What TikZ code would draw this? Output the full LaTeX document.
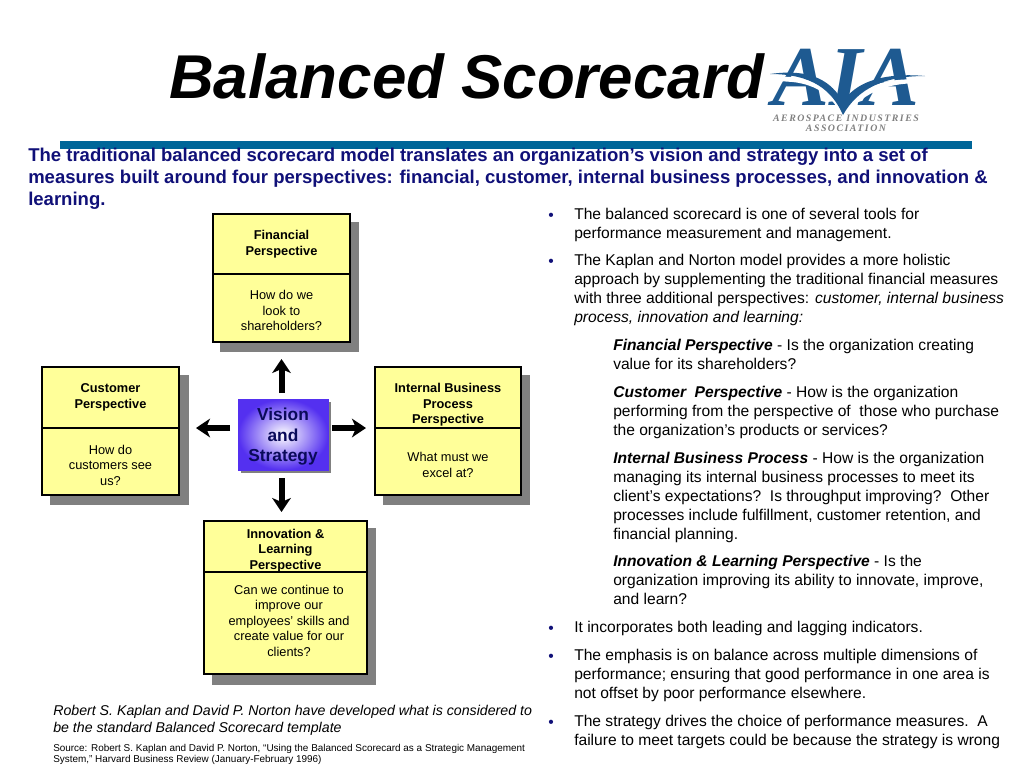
\documentclass[tikz,border=0pt]{standalone}
\usepackage{fontspec}
\setmainfont{Liberation Sans}
\newfontfamily\logofont{Liberation Serif}
\newfontfamily\logotextfont[LetterSpace=15]{Liberation Serif}
\usetikzlibrary{arrows.meta}
\definecolor{cardYellow}{RGB}{255,255,153}
\definecolor{cardShadow}{RGB}{128,128,128}
\definecolor{barBlue}{RGB}{0,102,153}
\definecolor{introBlue}{RGB}{16,16,120}
\definecolor{visionText}{RGB}{10,10,90}
\definecolor{visionBlue}{RGB}{84,48,240}
\definecolor{logoBlue}{RGB}{30,90,145}
\providecommand{\dropText}[1]{\rule{0pt}{#1}}
\tikzset{
  cardHead/.style={draw=black, line width=1pt, fill=cardYellow, inner sep=0pt, outer sep=0pt, align=center,
    font=\fontsize{9.6}{11.6}\selectfont\bfseries},
  cardLook/.style={draw=black, line width=1pt, fill=cardYellow, inner sep=0pt, outer sep=0pt, align=center,
    font=\fontsize{9.6}{11.6}\selectfont},
  bodyText/.style={anchor=north west, inner sep=0pt, align=left, font=\fontsize{11.7}{14.2}\selectfont},
  bulletMark/.style={inner sep=0pt, text=introBlue, font=\fontsize{11.7}{14.2}\selectfont},
  bigArrow/.style={line width=4.5pt, -{Stealth[length=10.5pt,width=14pt,inset=3pt]}},
}
\begin{document}
\begin{tikzpicture}
% one unit is one pixel of the slide
\begin{scope}[x=0.75pt, y=-0.75pt]
  \useasboundingbox (0,0) rectangle (1024,768);
  % Heading and bar
  \node[inner sep=0pt, anchor=base west, font=\fontsize{46.4}{48}\selectfont\bfseries\itshape] (title) at (169,98) {Balanced Scorecard};
  \fill[barBlue] (60,141) rectangle (972,149);
  % Logo
  \node[inner sep=0pt, anchor=base, text=logoBlue, font=\fontsize{64}{64}\logofont\bfseries\itshape] (logoName) at (846,105) {AIA};
  \fill[white] (768,78) .. controls (812,72) and (832,88) .. (843,112) .. controls (854,90) and (880,76) .. (927,80) -- (927,84) .. controls (885,80) and (860,96) .. (843,118) .. controls (832,94) and (812,78) .. (768,82) -- cycle;
  \fill[logoBlue] (770,74) .. controls (812,68) and (832,82) .. (843,102) .. controls (854,84) and (880,72) .. (925,76) .. controls (885,76) and (858,88) .. (843,115) .. controls (832,90) and (812,74) .. (770,74) -- cycle;
  \node[inner sep=0pt, text=cardShadow, align=center, font=\fontsize{7.4}{7.5}\logotextfont\bfseries\itshape] (logoText) at (846,123.5) {AEROSPACE INDUSTRIES\\ASSOCIATION};
  % Intro
  \node[inner sep=0pt, anchor=north west, align=left, text=introBlue, font=\fontsize{13.9}{16.5}\selectfont\bfseries] (intro) at (28,147.5) {The traditional balanced scorecard model translates an organization’s vision and strategy into a set of\\measures built around four perspectives: financial, customer, internal business processes, and innovation \&\\learning.};
  % Shadows
  \fill[cardShadow] (220,222) rectangle (359,352);
  \fill[cardShadow] (50,375) rectangle (189,505);
  \fill[cardShadow] (383,375) rectangle (530,505);
  \fill[cardShadow] (212,528) rectangle (376,685);
  \fill[cardShadow] (241,402) rectangle (331,473);
  % Cards
  \node[cardHead, minimum width=102.75pt, minimum height=45pt] (finHead) at (281.5,244) {Financial\\Perspective};
  \node[cardLook, minimum width=102.75pt, minimum height=51pt] (finLook) at (281.5,308) {\dropText{10.75pt}How do we\\look to\\shareholders?};
  \node[cardHead, minimum width=102.75pt, minimum height=45.75pt] (cusHead) at (110.5,397.5) {Customer\\Perspective};
  \node[cardLook, minimum width=102.75pt, minimum height=50.25pt] (cusLook) at (110.5,461.5) {\dropText{12.25pt}How do\\customers see\\us?};
  \node[cardHead, minimum width=109.5pt, minimum height=45.75pt] (intHead) at (448,397.5) {\dropText{18.25pt}Internal Business\\Process\\Perspective};
  \node[cardLook, minimum width=109.5pt, minimum height=50.25pt] (intLook) at (448,461.5) {\dropText{12.25pt}What must we\\excel at?};
  \node[cardHead, minimum width=122.25pt, minimum height=38.25pt] (innHead) at (285.5,546.5) {\dropText{13pt}Innovation \&\\Learning\\Perspective};
  \node[cardLook, minimum width=122.25pt, minimum height=76.5pt] (innLook) at (285.5,623) {};
  \node[inner sep=0pt, align=center, font=\fontsize{9.6}{11.6}\selectfont] (innText) at (289,620.5) {Can we continue to\\improve our\\employees' skills and\\create value for our\\clients?};
  % Centre
  \node[minimum width=67.5pt, minimum height=53.25pt, inner sep=0pt, outer sep=0pt, align=center, draw=visionBlue, line width=0.5pt, inner color=white, outer color=visionBlue, text=visionText, font=\fontsize{13}{15.4}\selectfont\bfseries] (vision) at (283,434.5) {\dropText{12.5pt}Vision\\and\\Strategy};
  % Arrows
  \coordinate (downEnd) at (finLook.south |- innHead.north);
  \draw[bigArrow, shorten <=4.5pt, shorten >=12.75pt] (vision.north -| finLook.south) -- (finLook.south);
  \draw[bigArrow, shorten <=6pt, shorten >=6.75pt] (vision.south -| finLook.south) -- (downEnd);
  \draw[bigArrow, shorten <=6pt, shorten >=12.75pt] (vision.west |- cusHead.south east) -- (cusHead.south east);
  \draw[bigArrow, shorten <=3pt, shorten >=6.75pt] (vision.east |- intHead.south west) -- (intHead.south west);
  % Right column
  \node[bodyText] (noteA) at (574,208) {The balanced scorecard is one of several tools for\\performance measurement and management.};
  \node[bodyText] (noteB) at (574,254) {The Kaplan and Norton model provides a more holistic\\approach by supplementing the traditional financial measures\\with three additional perspectives: \textit{customer, internal business}\\\textit{process, innovation and learning:}};
  \node[bodyText] (noteC) at (613,339) {\textbf{\textit{Financial Perspective}} - Is the organization creating\\value for its shareholders?};
  \node[bodyText] (noteD) at (613,386) {\textbf{\textit{Customer\ \ Perspective}} - How is the organization\\performing from the perspective of\ \ those who purchase\\the organization’s products or services?};
  \node[bodyText] (noteE) at (613,452) {\textbf{\textit{Internal Business Process}} - How is the organization\\managing its internal business processes to meet its\\client’s expectations?\ \ Is throughput improving?\ \ Other\\processes include fulfillment, customer retention, and\\financial planning.};
  \node[bodyText] (noteF) at (613,555) {\textbf{\textit{Innovation \& Learning Perspective}} - Is the\\organization improving its ability to innovate, improve,\\and learn?};
  \node[bodyText] (noteG) at (574,621) {It incorporates both leading and lagging indicators.};
  \node[bodyText] (noteH) at (574,649) {The emphasis is on balance across multiple dimensions of\\performance; ensuring that good performance in one area is\\not offset by poor performance elsewhere.};
  \node[bodyText] (noteI) at (574,715) {The strategy drives the choice of performance measures.\ \ A\\failure to meet targets could be because the strategy is wrong};
  % Bullets
  \node[bulletMark] (dotA) at (551,216.5) {•};
  \node[bulletMark] (dotB) at (551,262.5) {•};
  \node[bulletMark] (dotG) at (551,629.5) {•};
  \node[bulletMark] (dotH) at (551,657.5) {•};
  \node[bulletMark] (dotI) at (551,723.5) {•};
  % Captions
  \node[bodyText, font=\fontsize{10.63}{12.8}\selectfont\itshape] (caption) at (53,705) {Robert S. Kaplan and David P. Norton have developed what is considered to\\be the standard Balanced Scorecard template};
  \node[bodyText, font=\fontsize{7.45}{8.3}\selectfont] (source) at (53,744) {Source: Robert S. Kaplan and David P. Norton, “Using the Balanced Scorecard as a Strategic Management\\System,” Harvard Business Review (January-February 1996)};
\end{scope}
\end{tikzpicture}
\end{document}
